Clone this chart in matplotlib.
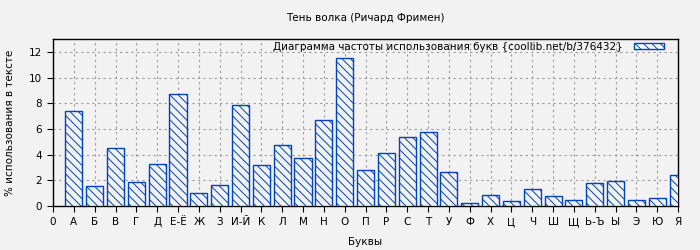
import matplotlib
matplotlib.use("Agg")
import matplotlib.pyplot as plt

letters = ["А", "Б", "В", "Г", "Д", "Е-Ё", "Ж", "З", "И-Й", "К", "Л", "М", "Н", "О", "П",
           "Р", "С", "Т", "У", "Ф", "Х", "Ц", "Ч", "Ш", "Щ", "Ь-Ъ", "Ы", "Э", "Ю", "Я"]
freq = [7.40, 1.54, 4.50, 1.85, 3.25, 8.75, 0.99, 1.61, 7.85, 3.17, 4.73, 3.72, 6.70, 11.51, 2.78,
        4.10, 5.35, 5.74, 2.63, 0.21, 0.83, 0.37, 1.30, 0.75, 0.44, 1.79, 1.92, 0.44, 0.60, 2.39]

blue = "#0044bb"
bg = "#f2f2f2"
fs = 7.5
plt.rcParams["hatch.color"] = blue
plt.rcParams["hatch.linewidth"] = 0.7
plt.rcParams["font.family"] = "DejaVu Sans"

fig = plt.figure(figsize=(7, 2.5), dpi=100, facecolor=bg)
ax = fig.add_axes([0.0757, 0.176, 0.893, 0.668], facecolor=bg)

pos = list(range(1, len(letters) + 1))
ax.bar(pos, freq, width=0.82, color=bg, edgecolor=blue, linewidth=1.0, hatch="\\\\\\\\",
       label="Диаграмма частоты использования букв {coollib.net/b/376432}", zorder=3)

ax.set_xlim(0, len(letters))
ax.set_ylim(0, 13)
ax.set_xticks([0] + pos)
ax.set_xticklabels(["0"] + letters)
ax.set_yticks(range(0, 13, 2))
ax.grid(True, color="#999999", linestyle=(0, (2, 3)), linewidth=0.8, zorder=0)
ax.tick_params(labelsize=fs, direction="out", length=4, width=0.8, top=False, right=False, pad=4)
for s in ax.spines.values():
    s.set_linewidth(1.0)

ax.set_xlabel("Буквы", fontsize=fs, labelpad=7)
ax.set_ylabel("% использования в тексте", fontsize=fs, labelpad=10)
fig.text(0.522, 0.928, "Тень волка (Ричард Фримен)", fontsize=fs, ha="center", va="center")

leg = ax.legend(loc="upper right", bbox_to_anchor=(0.978, 0.985), frameon=False, fontsize=fs,
                markerfirst=False, handlelength=2.9, handleheight=0.55, handletextpad=1.1,
                borderaxespad=0, borderpad=0)
for h in leg.legend_handles:
    h.set_facecolor("white")

fig.savefig("out.png", dpi=100, facecolor=bg)
